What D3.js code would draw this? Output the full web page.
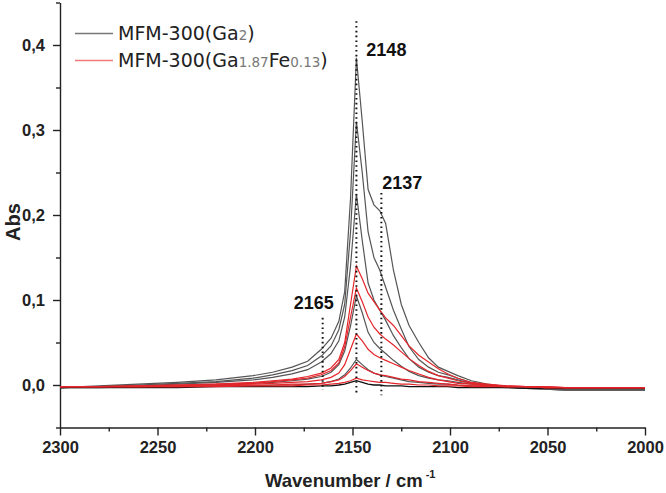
<!DOCTYPE html>
<html>
<head>
<meta charset="utf-8">
<script src="https://cdn.jsdelivr.net/npm/d3@7"></script>
<style>
  body { margin: 0; background: #fff; }
  svg { display: block; }
  .tick text { font-family: "Liberation Sans", Arial, sans-serif; font-weight: bold; font-size: 16.5px; fill: #222; }
  .axis path, .axis line { stroke: #222; stroke-width: 1.4; }
</style>
</head>
<body>
<div id="chart"></div>
<script>
// wavenumber grid shared by all spectra (cm-1)
const wavenumbers = [2300, 2280, 2260, 2240, 2220, 2201, 2191, 2181, 2173, 2166, 2161, 2157, 2154, 2151,
  2148, 2145, 2142, 2139, 2136, 2133, 2129, 2125, 2121, 2116, 2111, 2106, 2101, 2096, 2089, 2081,
  2071, 2061, 2051, 2041, 2031, 2021, 2000];

// MFM-300(Ga2) spectra
const ga1 = [-0.003, -0.001, 0.001, 0.003, 0.006, 0.011, 0.015, 0.021, 0.028, 0.042, 0.055, 0.075, 0.11, 0.22,
  0.385, 0.31, 0.23, 0.212, 0.205, 0.19, 0.135, 0.095, 0.07, 0.05, 0.032, 0.021, 0.016, 0.011, 0.005, 0.001,
  -0.002, -0.004, -0.005, -0.006, -0.006, -0.006, -0.006];
const ga2 = [-0.003, -0.002, 0.0, 0.002, 0.004, 0.008, 0.012, 0.017, 0.023, 0.034, 0.046, 0.065, 0.095, 0.18,
  0.31, 0.25, 0.18, 0.15, 0.135, 0.115, 0.088, 0.066, 0.045, 0.03, 0.021, 0.015, 0.012, 0.008, 0.003, 0.0,
  -0.002, -0.004, -0.005, -0.006, -0.006, -0.006, -0.006];
const ga3 = [-0.003, -0.002, -0.001, 0.001, 0.003, 0.006, 0.009, 0.013, 0.018, 0.027, 0.037, 0.052, 0.08, 0.14,
  0.225, 0.17, 0.12, 0.1, 0.088, 0.076, 0.058, 0.044, 0.031, 0.021, 0.015, 0.011, 0.009, 0.006, 0.002, 0.0,
  -0.002, -0.003, -0.004, -0.005, -0.005, -0.005, -0.005];
const ga4 = [-0.003, -0.002, -0.002, -0.001, 0.0, 0.002, 0.003, 0.005, 0.007, 0.01, 0.015, 0.024, 0.04, 0.07,
  0.105, 0.085, 0.062, 0.05, 0.043, 0.037, 0.029, 0.022, 0.016, 0.011, 0.008, 0.006, 0.005, 0.003, 0.001, -0.001,
  -0.002, -0.003, -0.004, -0.005, -0.005, -0.005, -0.005];
const ga5 = [-0.003, -0.003, -0.002, -0.002, -0.001, -0.001, 0.0, 0.0, 0.001, 0.002, 0.004, 0.007, 0.012, 0.02,
  0.03, 0.024, 0.018, 0.014, 0.012, 0.01, 0.008, 0.006, 0.004, 0.003, 0.002, 0.001, 0.001, 0.0, -0.001, -0.002,
  -0.003, -0.004, -0.004, -0.005, -0.005, -0.005, -0.005];
const ga6 = [-0.003, -0.003, -0.003, -0.003, -0.002, -0.002, -0.002, -0.002, -0.002, -0.001, -0.001, 0.0, 0.001, 0.003,
  0.005, 0.003, 0.001, 0.0, 0.0, -0.001, -0.001, -0.001, -0.002, -0.002, -0.002, -0.002, -0.002, -0.003, -0.003, -0.003,
  -0.003, -0.004, -0.004, -0.004, -0.004, -0.004, -0.004];

// MFM-300(Ga1.87Fe0.13) spectra
const fe1 = [-0.002, -0.002, -0.001, 0.0, 0.001, 0.003, 0.005, 0.007, 0.01, 0.014, 0.02, 0.03, 0.05, 0.095,
  0.14, 0.125, 0.108, 0.098, 0.088, 0.079, 0.07, 0.058, 0.046, 0.035, 0.027, 0.019, 0.013, 0.008, 0.003, 0.001,
  -0.001, -0.002, -0.002, -0.003, -0.003, -0.003, -0.003];
const fe2 = [-0.002, -0.002, -0.001, 0.0, 0.001, 0.002, 0.004, 0.006, 0.008, 0.012, 0.017, 0.026, 0.045, 0.08,
  0.114, 0.098, 0.08, 0.068, 0.06, 0.054, 0.047, 0.039, 0.031, 0.023, 0.016, 0.011, 0.008, 0.005, 0.002, 0.0,
  -0.001, -0.002, -0.002, -0.003, -0.003, -0.003, -0.003];
const fe3 = [-0.002, -0.002, -0.002, -0.001, 0.0, 0.001, 0.002, 0.003, 0.004, 0.006, 0.009, 0.014, 0.024, 0.042,
  0.06, 0.052, 0.042, 0.036, 0.032, 0.029, 0.025, 0.021, 0.017, 0.013, 0.009, 0.006, 0.004, 0.002, 0.001, -0.001,
  -0.002, -0.002, -0.003, -0.003, -0.003, -0.003, -0.003];
const fe4 = [-0.002, -0.002, -0.002, -0.002, -0.001, 0.0, 0.0, 0.001, 0.001, 0.002, 0.004, 0.006, 0.01, 0.017,
  0.025, 0.021, 0.017, 0.014, 0.012, 0.011, 0.009, 0.007, 0.006, 0.004, 0.003, 0.002, 0.001, 0.0, -0.001, -0.001,
  -0.002, -0.002, -0.003, -0.003, -0.003, -0.003, -0.003];
const fe5 = [-0.002, -0.002, -0.002, -0.002, -0.002, -0.001, -0.001, -0.001, 0.0, 0.0, 0.001, 0.002, 0.003, 0.005,
  0.008, 0.006, 0.005, 0.004, 0.003, 0.003, 0.002, 0.001, 0.001, 0.0, 0.0, -0.001, -0.001, -0.001, -0.002, -0.002,
  -0.002, -0.002, -0.003, -0.003, -0.003, -0.003, -0.003];

const gaSeries = [ga1, ga2, ga3, ga4, ga5];
const gaFlat = [ga6];
const feSeries = [fe1, fe2, fe3, fe4, fe5];

// peak markers (dotted lines) and their labels
const peakLabels = ['2148', '2137', '2165'];
const peakPos = [2148, 2135.2, 2165.3];
const peakTop = [0.428, 0.226, 0.079];
const peakBottom = [-0.009, -0.012, -0.006];
const labelX = [2142.9, 2134.7, 2180.1];
const labelY = [0.387, 0.231, 0.090];

const xTicks = [2300, 2250, 2200, 2150, 2100, 2050, 2000];
const xMinor = [2275, 2225, 2175, 2125, 2075, 2025];
const yTicks = [0.0, 0.1, 0.2, 0.3, 0.4];
const yMinor = [-0.05, 0.05, 0.15, 0.25, 0.35, 0.45];

const width = 666, height = 493;
const margin = {top: 2.5, right: 21, bottom: 65.5, left: 60};
const innerW = width - margin.left - margin.right;
const innerH = height - margin.top - margin.bottom;

const svg = d3.select('#chart').append('svg')
  .attr('width', width)
  .attr('height', height);

const x = d3.scaleLinear().domain([2300, 2000]).range([0, innerW]);
const y = d3.scaleLinear().domain([-0.05, 0.45]).range([innerH, 0]);

const g = svg.append('g').attr('transform', `translate(${margin.left},${margin.top})`);

// minor ticks
g.append('g')
  .attr('class', 'axis')
  .attr('transform', `translate(0,${innerH})`)
  .call(d3.axisBottom(x).tickValues(xMinor).tickSize(4).tickFormat(''))
  .call(s => s.select('.domain').remove());
g.append('g')
  .attr('class', 'axis')
  .call(d3.axisLeft(y).tickValues(yMinor).tickSize(4).tickFormat(''))
  .call(s => s.select('.domain').remove());

g.append('g')
  .attr('class', 'axis')
  .attr('transform', `translate(0,${innerH})`)
  .call(d3.axisBottom(x).tickValues(xTicks).tickSize(8).tickSizeOuter(0).tickPadding(6).tickFormat(d3.format('d')));

g.append('g')
  .attr('class', 'axis')
  .call(d3.axisLeft(y).tickValues(yTicks).tickSize(7).tickSizeOuter(0).tickPadding(8)
    .tickFormat(d => d3.format('.1f')(d).replace('.', ',')));

const line = d3.line()
  .x((d, i) => x(wavenumbers[i]))
  .y(d => y(d));

const curves = g.append('g');
curves.selectAll('.ga')
  .data(gaSeries)
  .join('path')
  .attr('class', 'ga')
  .attr('fill', 'none')
  .attr('stroke', '#555')
  .attr('stroke-width', 1.2)
  .attr('d', line);
curves.selectAll('.gaflat')
  .data(gaFlat)
  .join('path')
  .attr('class', 'gaflat')
  .attr('fill', 'none')
  .attr('stroke', '#111')
  .attr('stroke-width', 1.3)
  .attr('d', line);
curves.selectAll('.fe')
  .data(feSeries)
  .join('path')
  .attr('class', 'fe')
  .attr('fill', 'none')
  .attr('stroke', '#e3262b')
  .attr('stroke-width', 1.2)
  .attr('d', line);

// dotted peak lines and labels
const marks = g.append('g');
peakLabels.forEach((lab, i) => {
  marks.append('line')
    .attr('x1', x(peakPos[i])).attr('x2', x(peakPos[i]))
    .attr('y1', y(peakTop[i])).attr('y2', y(peakBottom[i]))
    .attr('stroke', '#111')
    .attr('stroke-width', 2)
    .attr('stroke-dasharray', '1.6,3.2');
});
marks.selectAll('.peak')
  .data(peakLabels)
  .join('text')
  .attr('class', 'peak')
  .attr('x', (d, i) => x(labelX[i]))
  .attr('y', (d, i) => y(labelY[i]))
  .attr('font-family', '"Liberation Sans", Arial, sans-serif')
  .attr('font-weight', 'bold')
  .attr('font-size', 18)
  .attr('fill', '#111')
  .text(d => d);

// legend
const legend = svg.append('g').attr('transform', 'translate(75,0)');
const legendItems = [
  {color: '#777', base: 'MFM-300(Ga', parts: [['2', true], [')', false]]},
  {color: '#f07a7a', base: 'MFM-300(Ga', parts: [['1.87', true], ['Fe', false], ['0.13', true], [')', false]]}
];
legendItems.forEach((it, i) => {
  const yy = 33.5 + i * 27;
  legend.append('line')
    .attr('x1', 0).attr('x2', 38)
    .attr('y1', yy).attr('y2', yy)
    .attr('stroke', it.color)
    .attr('stroke-width', 1.5);
  const t = legend.append('text')
    .attr('x', 43)
    .attr('y', yy + 6)
    .attr('font-family', '"DejaVu Sans", Verdana, sans-serif')
    .attr('font-size', 19)
    .attr('fill', '#222');
  t.append('tspan').text(it.base);
  it.parts.forEach(([s, sub]) => {
    if (sub) {
      t.append('tspan').attr('font-size', 13.5).attr('fill', '#777').text(s);
    } else {
      t.append('tspan').text(s);
    }
  });
});

// axis titles
svg.append('text')
  .attr('x', 265)
  .attr('y', 487)
  .attr('font-family', '"Liberation Sans", Arial, sans-serif')
  .attr('font-weight', 'bold')
  .attr('font-size', 18.5)
  .attr('fill', '#222')
  .text('Wavenumber / cm')
  .append('tspan')
  .attr('dx', 3)
  .attr('dy', -9)
  .attr('font-size', 11)
  .text('-1');

svg.append('text')
  .attr('transform', 'translate(20,222) rotate(-90)')
  .attr('text-anchor', 'middle')
  .attr('font-family', '"Liberation Sans", Arial, sans-serif')
  .attr('font-weight', 'bold')
  .attr('font-size', 20)
  .attr('fill', '#222')
  .text('Abs');
</script>
</body>
</html>
